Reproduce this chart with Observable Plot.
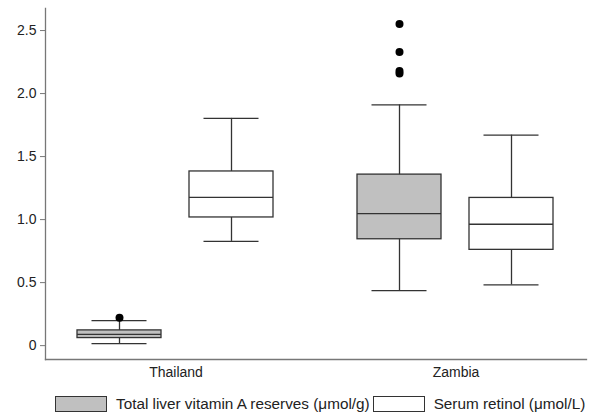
<!DOCTYPE html>
<html><head><meta charset="utf-8">
<script src="https://cdn.jsdelivr.net/npm/d3@7"></script>
<script src="https://cdn.jsdelivr.net/npm/@observablehq/plot@0.6"></script>
<style>
body{margin:0;background:#fff;font-family:"Liberation Sans",Arial,sans-serif;}
#chart{width:589px;}
.legend{display:flex;align-items:center;height:20px;padding-top:8px;font-size:15.3px;color:#222;white-space:nowrap;}
.sw{box-sizing:border-box;width:52px;height:16px;border:1.3px solid #333;flex:none;}
</style></head><body><div id="chart"></div>
<script>
const countries = ["Thailand", "Zambia"];
const seriesNames = ["Total liver vitamin A reserves (μmol/g)", "Serum retinol (μmol/L)"];
const seriesColors = ["#c0c0c0", "#ffffff"];
// boxes: Thailand-liver, Thailand-serum, Zambia-liver, Zambia-serum
const boxCountry = ["Thailand", "Thailand", "Zambia", "Zambia"];
const boxSeries = [seriesNames[0], seriesNames[1], seriesNames[0], seriesNames[1]];
const whiskerLow = [0.016, 0.827, 0.437, 0.482];
const quartile1 = [0.060, 1.017, 0.844, 0.760];
const median = [0.090, 1.176, 1.048, 0.963];
const quartile3 = [0.121, 1.382, 1.357, 1.172];
const whiskerHigh = [0.198, 1.803, 1.910, 1.670];
const outlierCountry = ["Thailand", "Zambia", "Zambia", "Zambia", "Zambia"];
const outlierSeries = [seriesNames[0], seriesNames[0], seriesNames[0], seriesNames[0], seriesNames[0]];
const outlierValue = [0.222, 2.553, 2.330, 2.180, 2.160];
const yTicks = [0, 0.5, 1.0, 1.5, 2.0, 2.5];

const boxes = boxCountry.map((c, i) => ({
  country: c, series: boxSeries[i], lo: whiskerLow[i], q1: quartile1[i],
  med: median[i], q3: quartile3[i], hi: whiskerHigh[i]
}));
const outliers = outlierValue.map((v, i) => ({country: outlierCountry[i], series: outlierSeries[i], value: v}));

const stroke = "#333";
const capInset = 14.5;
const plot = Plot.plot({
  width: 589, height: 386,
  marginLeft: 44, marginRight: 2, marginTop: 8, marginBottom: 27,
  style: {fontFamily: "Liberation Sans, Arial, sans-serif", fontSize: "14px", color: "#222", background: "#fff"},
  fx: {domain: countries, paddingInner: 0.0676, paddingOuter: 0, label: null},
  x: {domain: seriesNames, paddingInner: 0.248, paddingOuter: 0.283, axis: null},
  y: {domain: [-0.11, 2.675], label: null},
  color: {domain: seriesNames, range: seriesColors},
  marks: [
    Plot.frame({anchor: "left", facet: "super", stroke: "#777", strokeWidth: 1.3}),
    Plot.frame({anchor: "bottom", facet: "super", stroke: "#777", strokeWidth: 1.3}),
    Plot.axisY(yTicks, {tickFormat: d => d === 0 ? "0" : d.toFixed(1), tickSize: 5, tickPadding: 4, stroke: "#777", fill: "#222", label: null}),
    Plot.axisFx({anchor: "bottom", tickSize: 0, tickPadding: 8, fill: "#222", label: null}),
    Plot.ruleX(boxes, {fx: "country", x: "series", y1: "lo", y2: "hi", stroke, strokeWidth: 1.3}),
    Plot.barY(boxes, {fx: "country", x: "series", y1: "q1", y2: "q3", fill: "series", stroke, strokeWidth: 1.3}),
    Plot.tickY(boxes, {fx: "country", x: "series", y: "med", stroke, strokeWidth: 1.3}),
    Plot.tickY(boxes, {fx: "country", x: "series", y: "lo", stroke, strokeWidth: 1.3, insetLeft: capInset, insetRight: capInset}),
    Plot.tickY(boxes, {fx: "country", x: "series", y: "hi", stroke, strokeWidth: 1.3, insetLeft: capInset, insetRight: capInset}),
    Plot.dot(outliers, {fx: "country", x: "series", y: "value", r: 4, fill: "#000", stroke: "none"})
  ]
});
document.getElementById("chart").appendChild(plot);

const legend = document.createElement("div");
legend.className = "legend";
seriesNames.forEach((name, i) => {
  const sw = document.createElement("div");
  sw.className = "sw";
  sw.style.background = seriesColors[i];
  sw.style.marginLeft = (i === 0 ? 55 : 3) + "px";
  const t = document.createElement("span");
  t.textContent = name;
  t.style.marginLeft = "9px";
  legend.appendChild(sw);
  legend.appendChild(t);
});
document.getElementById("chart").appendChild(legend);
</script></body></html>
